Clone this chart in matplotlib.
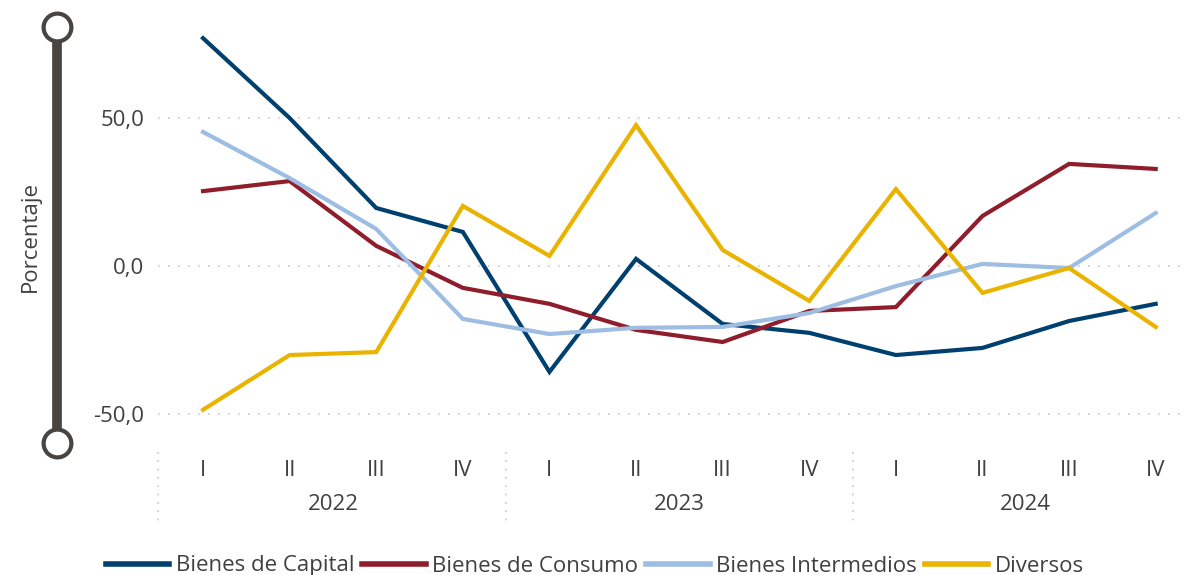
import matplotlib
matplotlib.use("Agg")
import matplotlib.pyplot as plt
from matplotlib.lines import Line2D
import matplotlib.transforms as mtransforms

quarters = ["I", "II", "III", "IV"] * 3
years = ["2022", "2023", "2024"]
capital = [77.0, 50.0, 19.6, 11.5, -35.8, 2.4, -19.6, -22.6, -30.1, -27.7, -18.6, -12.8]
consumo = [25.3, 28.7, 6.8, -7.4, -12.8, -21.6, -25.7, -15.2, -13.9, 16.9, 34.5, 32.8]
intermedios = [45.3, 29.7, 12.5, -17.9, -23.0, -20.9, -20.6, -15.9, -6.8, 0.7, -0.7, 17.9]
diversos = [-48.6, -30.1, -29.1, 20.3, 3.4, 47.6, 5.4, -11.8, 26.0, -9.1, -0.7, -20.6]
series_names = ["Bienes de Capital", "Bienes de Consumo", "Bienes Intermedios", "Diversos"]
colors = ["#00406e", "#8f1d2c", "#9dbde3", "#eab300"]
yticks = [-50, 0, 50]

plt.rcParams['font.family'] = ['Open Sans', 'DejaVu Sans']
TXT = "#404040"
FS = 16
W, H = 1186, 575
fig = plt.figure(figsize=(W / 100, H / 100), dpi=100)
ax = fig.add_axes([158 / W, (H - 450) / H, (W - 158) / W, 450 / H])

x = list(range(len(quarters)))
for vals, name, c in zip([capital, consumo, intermedios, diversos], series_names, colors):
    ax.plot(x, vals, color=c, lw=3, label=name, solid_joinstyle='miter')

ax.set_xlim(-0.52, 11.35)
ax.set_ylim(-62.2, 89.9)
ax.set_yticks(yticks)
ax.set_yticklabels([f"{v:,.1f}".replace(".", ",") for v in yticks], fontsize=FS, color=TXT)
for v in yticks:
    ax.axhline(v, color="#c8c8c8", lw=1.2, ls=(0, (1, 5)), zorder=0)
ax.set_xticks(x)
ax.set_xticklabels(quarters, fontsize=FS, color=TXT)
ax.tick_params(axis='both', length=0)
ax.tick_params(axis='x', pad=7)
ax.tick_params(axis='y', pad=10)
for s in ax.spines.values():
    s.set_visible(False)

trans = mtransforms.blended_transform_factory(ax.transData, ax.transAxes)
for i, yr in enumerate(years):
    ax.text(4 * i + 1.5, -0.12, yr, transform=trans, ha='center', va='center',
            fontsize=FS, color=TXT)
for b in [-0.52, 3.5, 7.5]:
    ax.add_line(Line2D([b, b], [-0.005, -0.16], transform=trans, clip_on=False,
                       color="#c8c8c8", lw=1.2, ls=(0, (1, 4))))

fig.text(30 / W, 1 - 237 / H, "Porcentaje", rotation=90, ha='center', va='center',
         fontsize=FS, color=TXT)

# decorative axis bar
fx = 57 / W
y1 = 1 - 27 / H
y2 = 1 - 443 / H
fig.add_artist(Line2D([fx, fx], [y1, y2], transform=fig.transFigure, color="#484441", lw=7,
                      solid_capstyle='butt'))
for yy in (y1, y2):
    fig.add_artist(Line2D([fx], [yy], transform=fig.transFigure, marker='o', markersize=20,
                          markerfacecolor='white', markeredgecolor="#484441", markeredgewidth=3,
                          ls='none'))

leg = fig.legend(loc='center', bbox_to_anchor=(595 / W, 1 - 566 / H), ncol=4, frameon=False,
                 fontsize=FS, handlelength=2.85, handletextpad=0.3, columnspacing=0.36,
                 labelcolor=TXT)
for l in leg.get_lines():
    l.set_linewidth(4)

fig.savefig("out.png", dpi=100)
